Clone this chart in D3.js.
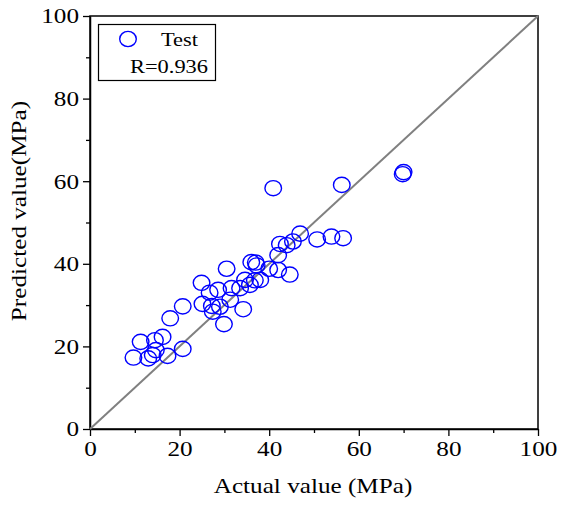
<!DOCTYPE html>
<html>
<head>
<meta charset="utf-8">
<script src="https://cdn.jsdelivr.net/npm/d3@7"></script>
<style>
  body { margin: 0; background: #fff; }
  svg text { font-family: "Liberation Serif", "Times New Roman", Times, "DejaVu Serif", serif !important; fill: #000; }
</style>
</head>
<body>
<svg id="chart"></svg>
<script>
// data
const actual = [69.8, 70.0, 56.2, 40.9, 56.5, 53.9, 50.7, 46.9, 45.3, 43.9,
                42.4, 42.0, 44.6, 42.0, 40.0, 37.0, 36.0, 37.2, 30.5, 38.0,
                36.8, 34.6, 35.7, 33.5, 31.6, 28.6, 24.9, 26.7, 25.1, 27.2,
                29.0, 31.3, 27.4, 29.9, 34.2, 20.7, 17.9, 16.2, 14.5, 11.3,
                14.7, 9.7, 13.0, 14.0, 17.3, 20.7];
const predicted = [61.7, 62.2, 59.1, 58.3, 46.2, 46.6, 45.9, 47.3, 45.4, 44.5,
                   44.8, 42.1, 37.4, 38.5, 38.8, 40.3, 40.4, 39.6, 38.8, 36.1,
                   36.0, 36.1, 34.9, 34.1, 34.1, 33.7, 35.4, 33.0, 30.3, 29.8,
                   29.6, 31.3, 28.4, 25.4, 29.0, 29.7, 26.8, 22.3, 21.5, 21.1,
                   19.1, 17.3, 17.1, 17.9, 17.7, 19.4];
const majorTicks = [0, 20, 40, 60, 80, 100];
const minorTicks = [10, 30, 50, 70, 90];
const seriesName = "Test";
const rLabel = "R=0.936";

const W = 563, H = 506;
const margin = { top: 16, right: 25, bottom: 77, left: 90 },
      width = W - margin.left - margin.right,
      height = H - margin.top - margin.bottom;
const sx = 1.26; // glyphs are wide and short in the original
const FONT = "'Liberation Serif', 'Times New Roman', Times, 'DejaVu Serif', serif";

const svg = d3.select("#chart").attr("width", W).attr("height", H)
  .attr("font-family", FONT);
const g = svg.append("g").attr("transform", `translate(${margin.left},${margin.top})`);

const x = d3.scaleLinear().domain([0, 100]).range([0, width]);
const y = d3.scaleLinear().domain([0, 100]).range([height, 0]);

// frame top/right
g.append("rect").attr("width", width).attr("height", height)
  .attr("fill", "none").attr("stroke", "#000").attr("stroke-width", 1.5);

// minor ticks
g.append("g").attr("transform", `translate(0,${height})`)
  .call(d3.axisBottom(x).tickValues(minorTicks).tickSize(4).tickFormat(""))
  .call(a => a.select(".domain").remove())
  .selectAll("line").attr("stroke-width", 1.3);
g.append("g")
  .call(d3.axisLeft(y).tickValues(minorTicks).tickSize(4).tickFormat(""))
  .call(a => a.select(".domain").remove())
  .selectAll("line").attr("stroke-width", 1.3);

// major ticks
const xAxis = g.append("g").attr("transform", `translate(0,${height})`)
  .call(d3.axisBottom(x).tickValues(majorTicks).tickSize(7).tickSizeOuter(0));
const yAxis = g.append("g")
  .call(d3.axisLeft(y).tickValues(majorTicks).tickSize(7).tickSizeOuter(0));
[xAxis, yAxis].forEach(a => {
  a.attr("font-family", FONT);
  a.select(".domain").attr("stroke-width", 1.5);
  a.selectAll(".tick line").attr("stroke-width", 1.3);
  a.selectAll("text").style("font-size", "20px").style("font-family", FONT);
});
xAxis.selectAll("text").attr("y", 13).attr("dy", "0.71em")
  .attr("transform", `scale(${sx},1)`);
yAxis.selectAll("text").attr("x", -11 / sx).attr("dy", "0.34em")
  .attr("transform", `scale(${sx},1)`);

// diagonal y = x
g.append("line")
  .attr("x1", x(0)).attr("y1", y(0)).attr("x2", x(100)).attr("y2", y(100))
  .attr("stroke", "#808080").attr("stroke-width", 2);

// points
const points = actual.map((a, i) => ({ a, p: predicted[i] }));
g.selectAll(".pt").data(points).enter().append("ellipse")
  .attr("class", "pt")
  .attr("cx", d => x(d.a)).attr("cy", d => y(d.p))
  .attr("rx", 8.3).attr("ry", 7.6)
  .attr("fill", "none").attr("stroke", "#0000ff").attr("stroke-width", 1.4);

// axis titles
svg.append("text")
  .attr("transform", `translate(${margin.left + width / 2 - 1},493) scale(${sx},1)`)
  .attr("text-anchor", "middle").style("font-size", "20px")
  .text("Actual value (MPa)");
svg.append("text")
  .attr("transform", `translate(26,211) rotate(-90) scale(${sx},1)`)
  .attr("text-anchor", "middle").style("font-size", "20px")
  .text("Predicted value(MPa)");

// legend
const leg = svg.append("g");
leg.append("rect").attr("x", 98.5).attr("y", 24.5).attr("width", 117).attr("height", 56)
  .attr("fill", "#fff").attr("stroke", "#000").attr("stroke-width", 1.2);
leg.append("ellipse").attr("cx", 128).attr("cy", 39).attr("rx", 8.3).attr("ry", 7.6)
  .attr("fill", "none").attr("stroke", "#0000ff").attr("stroke-width", 1.4);
leg.append("text").attr("transform", `translate(161,46) scale(1.18,1)`)
  .style("font-size", "19px").text(seriesName);
leg.append("text").attr("transform", `translate(130,73) scale(1.18,1)`)
  .style("font-size", "19px").text(rLabel);
</script>
</body>
</html>
